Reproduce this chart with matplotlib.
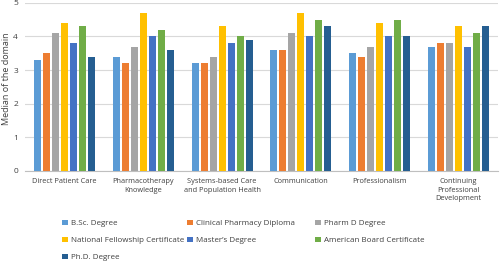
import matplotlib
matplotlib.use("Agg")
import matplotlib.pyplot as plt
import numpy as np

categories = ["Direct Patient Care", "Pharmacotherapy\nKnowledge", "Systems-based Care\nand Population Health",
              "Communication", "Professionalism", "Continuing\nProfessional\nDevelopment"]
series_names = ["B.Sc. Degree", "Clinical Pharmacy Diploma", "Pharm D Degree",
                "National Fellowship Certificate", "Master\u2019s Degree", "American Board Certificate",
                "Ph.D. Degree"]
bsc = [3.3, 3.4, 3.2, 3.6, 3.5, 3.7]
diploma = [3.5, 3.2, 3.2, 3.6, 3.4, 3.8]
pharmd = [4.1, 3.7, 3.4, 4.1, 3.7, 3.8]
fellowship = [4.4, 4.7, 4.3, 4.7, 4.4, 4.3]
masters = [3.8, 4.0, 3.8, 4.0, 4.0, 3.7]
board = [4.3, 4.2, 4.0, 4.5, 4.5, 4.1]
phd = [3.4, 3.6, 3.9, 4.3, 4.0, 4.3]
series = [bsc, diploma, pharmd, fellowship, masters, board, phd]
colors = ["#5B9BD5", "#ED7D31", "#A5A5A5", "#FFC000", "#4472C4", "#70AD47", "#255E91"]

plt.rcParams['font.family'] = ['Open Sans', 'DejaVu Sans']
fig = plt.figure(figsize=(5, 2.61), dpi=100)
ax = fig.add_axes([0.05, 0.345, 0.946, 0.644])

x = np.arange(len(categories))
pitch = 0.114
bw = 0.089
handles = []
for i, (vals, c, name) in enumerate(zip(series, colors, series_names)):
    h = ax.bar(x + (i - 3) * pitch, vals, bw, color=c, label=name, zorder=3)
    handles.append(h)

ax.set_xlim(-0.5, len(categories) - 0.5)
ax.set_ylim(0, 5)
ax.set_yticks(range(6))
ax.yaxis.grid(True, color="#D9D9D9", linewidth=0.8, zorder=0)
for s in ["top", "right", "left"]:
    ax.spines[s].set_visible(False)
ax.spines["bottom"].set_color("#BFBFBF")
ax.tick_params(axis="y", length=0, labelsize=6, colors="#404040", pad=5)
ax.tick_params(axis="x", length=0, labelsize=5.3, colors="#404040", pad=5)
ax.set_xticks(x)
ax.set_xticklabels(categories, va="top", linespacing=1.35)
ax.set_ylabel("Median of the domain", fontsize=6.5, color="#404040")
ax.yaxis.set_label_coords(-0.03, 0.55)

# legend: three columns, row-major order as in the reference
col_x = [0.124, 0.374, 0.630]
columns = [[0, 3, 6], [1, 4], [2, 5]]
for cx, idxs in zip(col_x, columns):
    leg = fig.legend([handles[i] for i in idxs], [series_names[i] for i in idxs],
                     loc="upper left", bbox_to_anchor=(cx, 0.158), ncol=1, frameon=False,
                     fontsize=5.8, handlelength=0.7, handleheight=0.7, handletextpad=0.4,
                     labelspacing=1.15, labelcolor="#404040", borderaxespad=0, borderpad=0)

fig.savefig("out.png", dpi=100)
